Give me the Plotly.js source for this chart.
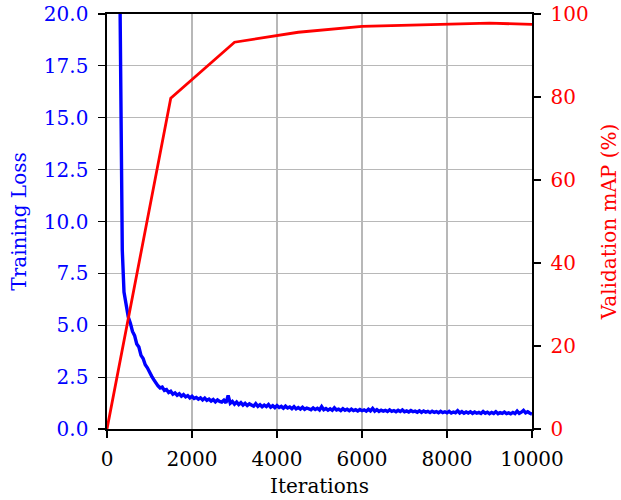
<!DOCTYPE html>
<html><head><meta charset="utf-8">
<script src="https://cdn.plot.ly/plotly-3.0.1.min.js"></script>
<style>body{margin:0;padding:0;background:#fff}#chart{width:621px;height:500px}</style>
</head><body><div id="chart"></div>
<script>
// Training loss (left axis): early part read at irregular iterations
const earlyIters = [0,100,200,300,330,360,400,450,500,550,600,650,700,750,800,850,900,950,1000,1050,1100,1150];
const earlyLoss = [200,90,40,22,12,8.6,6.6,5.9,5.4,5.1,4.7,4.5,4.1,3.95,3.55,3.4,3.1,2.95,2.7,2.55,2.38,2.22];
// Training loss read every 50 iterations from 1200 to 10000
const denseStart = 1200, denseStep = 50;
const denseLoss = [
2.08,1.98,2.02,1.86,1.90,1.76,1.82,1.68,1.74,1.63,1.70,1.58,1.66,1.55,1.61,1.50,
1.58,1.47,1.52,1.44,1.50,1.40,1.49,1.38,1.44,1.35,1.42,1.31,1.40,1.33,1.30,1.39,
1.26,1.62,1.24,1.33,1.20,1.30,1.18,1.27,1.15,1.24,1.13,1.21,1.16,1.10,1.22,1.09,
1.17,1.07,1.15,1.08,1.18,1.05,1.12,1.03,1.13,1.04,1.09,1.00,1.10,1.01,1.06,0.98,
1.08,0.97,1.03,0.96,1.05,0.95,1.01,0.97,0.93,1.02,0.94,1.00,0.92,1.08,0.93,0.99,
0.91,0.97,0.90,1.02,0.92,0.96,0.89,0.98,0.90,0.95,0.88,0.96,0.89,0.93,0.87,0.94,
0.88,0.92,0.86,0.95,0.87,0.99,0.86,0.93,0.85,0.91,0.86,0.90,0.84,0.92,0.85,0.89,
0.83,0.90,0.84,0.92,0.83,0.87,0.82,0.89,0.83,0.86,0.81,0.88,0.80,0.87,0.81,0.85,
0.79,0.86,0.80,0.84,0.78,0.85,0.79,0.83,0.78,0.85,0.77,0.82,0.78,0.88,0.77,0.84,
0.76,0.82,0.77,0.83,0.75,0.82,0.76,0.80,0.75,0.84,0.76,0.81,0.74,0.80,0.75,0.83,
0.74,0.79,0.75,0.82,0.74,0.78,0.73,0.80,0.74,0.86,0.75,0.81,0.90,0.78,0.83,0.76,
0.72];
// Validation mAP (right axis)
const mapIters = [0,1500,3000,4500,6000,7500,9000,10000];
const mapValues = [0,79.7,93.2,95.6,97.0,97.4,97.8,97.5];
const xTicks = [0,2000,4000,6000,8000,10000];
const lossTicks = [0,2.5,5,7.5,10,12.5,15,17.5,20];
const lossTickText = ['0.0','2.5','5.0','7.5','10.0','12.5','15.0','17.5','20.0'];
const mapTicks = [0,20,40,60,80,100];

const lossIters = earlyIters.concat(denseLoss.map((_, i) => denseStart + i * denseStep));
const lossValues = earlyLoss.concat(denseLoss);

const F = 'DejaVu Serif';
const traces = [
  {x: lossIters, y: lossValues, type:'scatter', mode:'lines', line:{color:'#0000ff', width:3.4}, yaxis:'y', hoverinfo:'skip'},
  {x: mapIters, y: mapValues, type:'scatter', mode:'lines', line:{color:'#ff0000', width:2.8}, yaxis:'y2', hoverinfo:'skip'}
];
const layout = {
  width:621, height:500,
  margin:{l:107, r:89, t:14, b:71},
  showlegend:false,
  paper_bgcolor:'#fff', plot_bgcolor:'#fff',
  font:{family:F, size:20, color:'#000'},
  xaxis:{range:[0,10000], tickvals:xTicks, ticktext:xTicks.map(String), ticks:'outside', ticklen:7, tickwidth:1.2, tickcolor:'#000',
    showline:true, linecolor:'#000', linewidth:1.6, mirror:true, showgrid:true, gridcolor:'#b8b8b8', gridwidth:1.2, zeroline:false,
    tickfont:{family:F, size:20, color:'#000'}, ticklabelstandoff:4,
    title:{text:'Iterations', font:{family:F, size:20, color:'#000'}, standoff:9}},
  yaxis:{range:[0,20], tickvals:lossTicks, ticktext:lossTickText, ticks:'outside', ticklen:7, tickwidth:1.2, tickcolor:'#000',
    showline:true, linecolor:'#000', linewidth:1.6, showgrid:true, gridcolor:'#b8b8b8', gridwidth:1.2, zeroline:false,
    tickfont:{family:F, size:20, color:'#0000ff'}, ticklabelstandoff:6,
    title:{text:'Training Loss', font:{family:F, size:20, color:'#0000ff'}, standoff:12}},
  yaxis2:{range:[0,100], tickvals:mapTicks, ticktext:mapTicks.map(String), overlaying:'y', side:'right', ticks:'outside', ticklen:7, tickwidth:1.2, tickcolor:'#000',
    showline:true, linecolor:'#000', linewidth:1.6, showgrid:false, zeroline:false,
    tickfont:{family:F, size:20, color:'#ff0000'}, ticklabelstandoff:6,
    title:{text:'Validation mAP (%)', font:{family:F, size:20, color:'#ff0000'}, standoff:15}}
};
Plotly.newPlot('chart', traces, layout, {staticPlot:true, displayModeBar:false});
</script></body></html>
